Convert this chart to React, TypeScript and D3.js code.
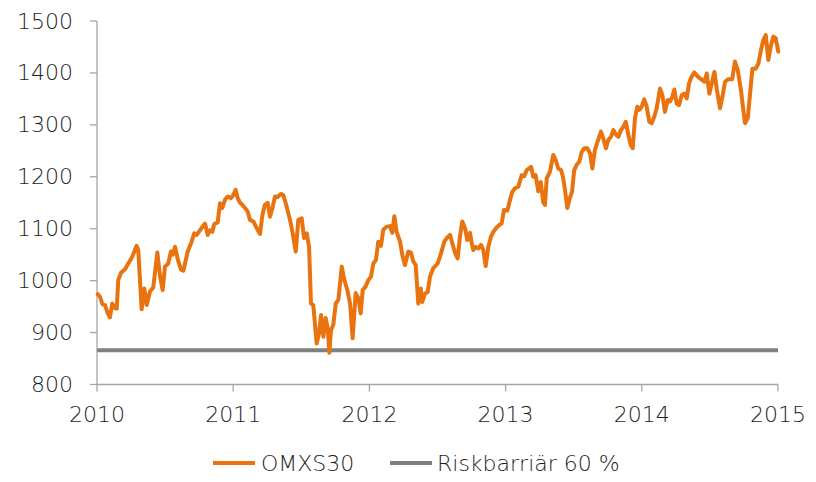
import React from "react";
import * as d3 from "d3";

// Decimal-year positions and OMXS30 index levels
const years: number[] = [
  2010.005, 2010.022, 2010.039, 2010.059, 2010.079, 2010.095, 2010.112, 2010.132, 2010.145, 2010.156,
  2010.176, 2010.206, 2010.230, 2010.259, 2010.291, 2010.303, 2010.328, 2010.347, 2010.365, 2010.389,
  2010.413, 2010.443, 2010.463, 2010.482, 2010.499, 2010.523, 2010.543, 2010.556, 2010.573, 2010.593,
  2010.617, 2010.634, 2010.666, 2010.695, 2010.714, 2010.732, 2010.756, 2010.793, 2010.813, 2010.830,
  2010.847, 2010.861, 2010.886, 2010.903, 2010.920, 2010.940, 2010.960, 2010.984, 2011.001, 2011.018,
  2011.033, 2011.050, 2011.067, 2011.087, 2011.106, 2011.123, 2011.148, 2011.173, 2011.197, 2011.214,
  2011.233, 2011.253, 2011.270, 2011.290, 2011.307, 2011.327, 2011.351, 2011.368, 2011.393, 2011.417,
  2011.437, 2011.459, 2011.478, 2011.503, 2011.520, 2011.540, 2011.557, 2011.571, 2011.588, 2011.613,
  2011.630, 2011.645, 2011.662, 2011.679, 2011.694, 2011.706, 2011.718, 2011.735, 2011.753, 2011.772,
  2011.797, 2011.816, 2011.838, 2011.858, 2011.877, 2011.899, 2011.919, 2011.936, 2011.951, 2011.973,
  2011.992, 2012.012, 2012.029, 2012.048, 2012.065, 2012.085, 2012.102, 2012.127, 2012.151, 2012.168,
  2012.183, 2012.200, 2012.225, 2012.242, 2012.261, 2012.286, 2012.305, 2012.322, 2012.340, 2012.359,
  2012.377, 2012.388, 2012.408, 2012.428, 2012.445, 2012.469, 2012.501, 2012.526, 2012.550, 2012.568,
  2012.592, 2012.609, 2012.629, 2012.648, 2012.665, 2012.682, 2012.702, 2012.719, 2012.739, 2012.751,
  2012.763, 2012.780, 2012.800, 2012.819, 2012.836, 2012.854, 2012.873, 2012.893, 2012.910, 2012.930,
  2012.952, 2012.971, 2012.988, 2013.013, 2013.032, 2013.049, 2013.069, 2013.093, 2013.118, 2013.137,
  2013.155, 2013.172, 2013.187, 2013.203, 2013.221, 2013.240, 2013.258, 2013.277, 2013.289, 2013.302,
  2013.326, 2013.350, 2013.368, 2013.387, 2013.407, 2013.421, 2013.436, 2013.453, 2013.473, 2013.488,
  2013.504, 2013.522, 2013.541, 2013.559, 2013.578, 2013.600, 2013.620, 2013.637, 2013.656, 2013.676,
  2013.700, 2013.717, 2013.737, 2013.754, 2013.774, 2013.791, 2013.811, 2013.828, 2013.847, 2013.864,
  2013.882, 2013.901, 2013.919, 2013.933, 2013.950, 2013.967, 2013.982, 2013.999, 2014.018, 2014.036,
  2014.055, 2014.073, 2014.092, 2014.109, 2014.134, 2014.151, 2014.170, 2014.190, 2014.207, 2014.224,
  2014.239, 2014.256, 2014.273, 2014.293, 2014.312, 2014.330, 2014.347, 2014.366, 2014.386, 2014.411,
  2014.435, 2014.459, 2014.477, 2014.496, 2014.514, 2014.533, 2014.550, 2014.574, 2014.594, 2014.611,
  2014.635, 2014.664, 2014.684, 2014.704, 2014.728, 2014.745, 2014.758, 2014.778, 2014.795, 2014.812,
  2014.836, 2014.856, 2014.875, 2014.892, 2014.910, 2014.929, 2014.949, 2014.966, 2014.983, 2015.002,
];

const omxs30: number[] = [
  974, 969, 955, 953, 937, 929, 956, 947, 946, 1001,
  1015, 1022, 1033, 1046, 1067, 1059, 945, 985, 953, 979,
  987, 1054, 1008, 982, 1027, 1033, 1056, 1050, 1065, 1041,
  1021, 1019, 1056, 1075, 1091, 1088, 1097, 1110, 1088, 1097,
  1094, 1109, 1112, 1149, 1140, 1156, 1162, 1159, 1165, 1175,
  1159, 1150, 1146, 1140, 1133, 1117, 1114, 1101, 1090, 1126,
  1146, 1150, 1123, 1142, 1162, 1161, 1167, 1165, 1142, 1117,
  1091, 1056, 1117, 1120, 1082, 1091, 1065, 956, 953, 879,
  898, 934, 892, 928, 908, 861, 905, 915, 956, 963,
  1027, 1001, 982, 956, 889, 976, 966, 937, 982, 989,
  1001, 1008, 1033, 1040, 1075, 1067, 1098, 1104, 1105, 1092,
  1124, 1094, 1075, 1049, 1030, 1056, 1054, 1037, 1030, 956,
  985, 959, 975, 978, 1008, 1024, 1033, 1053, 1075, 1082,
  1088, 1072, 1053, 1043, 1085, 1114, 1101, 1078, 1092, 1072,
  1059, 1065, 1062, 1069, 1059, 1028, 1065, 1085, 1094, 1101,
  1107, 1110, 1136, 1135, 1155, 1171, 1178, 1181, 1203, 1201,
  1213, 1216, 1219, 1200, 1203, 1172, 1190, 1150, 1146, 1197,
  1210, 1242, 1232, 1216, 1213, 1200, 1175, 1140, 1160, 1172,
  1213, 1223, 1229, 1248, 1255, 1255, 1245, 1216, 1252, 1268,
  1287, 1274, 1255, 1271, 1277, 1290, 1281, 1277, 1290, 1296,
  1306, 1281, 1261, 1255, 1313, 1335, 1329, 1335, 1349, 1335,
  1306, 1303, 1316, 1332, 1370, 1357, 1325, 1348, 1345, 1354,
  1368, 1341, 1338, 1357, 1360, 1351, 1380, 1393, 1401, 1393,
  1388, 1383, 1399, 1360, 1380, 1402, 1370, 1332, 1357, 1383,
  1388, 1388, 1422, 1406, 1367, 1329, 1303, 1313, 1360, 1408,
  1408, 1418, 1444, 1463, 1473, 1425, 1454, 1470, 1467, 1441,
];

const riskBarrier = 866;
const yTicks: number[] = [800, 900, 1000, 1100, 1200, 1300, 1400, 1500];
const xTicks: number[] = [2010, 2011, 2012, 2013, 2014, 2015];
const seriesNames: string[] = ["OMXS30", "Riskbarriär 60 %"];

const ORANGE = "#E8730F";
const GRAY = "#808080";
const AXIS = "#a6a6a6";
const TEXT = "#1e1e1e";
const FONT = "'DejaVu Sans', sans-serif";

export default function App() {
  const W = 816, H = 482;
  const x = d3.scaleLinear().domain([2010, 2015]).range([97, 778]);
  const y = d3.scaleLinear().domain([800, 1500]).range([384.5, 21]);

  const pts: [number, number][] = years.map((yr, i) => [yr, omxs30[i]]);
  const line = d3
    .line<[number, number]>()
    .x((d) => x(d[0]))
    .y((d) => y(d[1]))
    .curve(d3.curveLinear);

  return (
    <svg
      width={W}
      height={H}
      style={{ position: "absolute", left: 0, top: 0, background: "#fff" }}
      fontFamily={FONT}
      fontWeight={300}
    >
      {/* axes */}
      <line x1={x(2010)} x2={x(2010)} y1={y(1500)} y2={y(800)} stroke={AXIS} strokeWidth={1.3} />
      <line x1={x(2010)} x2={x(2015)} y1={y(800)} y2={y(800)} stroke={AXIS} strokeWidth={1.3} />
      {yTicks.map((t) => (
        <g key={"y" + t}>
          <line x1={x(2010) - 7} x2={x(2010)} y1={y(t)} y2={y(t)} stroke={AXIS} strokeWidth={1.3} />
          <text
            x={73}
            y={y(t)}
            textAnchor="end"
            dominantBaseline="central"
            fontSize={22}
            fill={TEXT}
          >
            {t}
          </text>
        </g>
      ))}
      {xTicks.map((t) => (
        <g key={"x" + t}>
          <line x1={x(t)} x2={x(t)} y1={y(800)} y2={y(800) + 7} stroke={AXIS} strokeWidth={1.3} />
          <text
            x={x(t)}
            y={414}
            textAnchor="middle"
            dominantBaseline="central"
            fontSize={22}
            fill={TEXT}
          >
            {t}
          </text>
        </g>
      ))}

      {/* risk barrier */}
      <line
        x1={x(2010)}
        x2={x(2015)}
        y1={y(riskBarrier)}
        y2={y(riskBarrier)}
        stroke={GRAY}
        strokeWidth={4}
      />

      {/* OMXS30 */}
      <path
        d={line(pts) || ""}
        fill="none"
        stroke={ORANGE}
        strokeWidth={4}
        strokeLinejoin="round"
        strokeLinecap="round"
      />

      {/* legend */}
      <g>
        <line x1={213} x2={255} y1={463} y2={463} stroke={ORANGE} strokeWidth={4} />
        <text x={261} y={463} dominantBaseline="central" fontSize={22} fill={TEXT}>
          {seriesNames[0]}
        </text>
        <line x1={390} x2={432} y1={463} y2={463} stroke={GRAY} strokeWidth={4} />
        <text x={437} y={463} dominantBaseline="central" fontSize={22} fill={TEXT}>
          {seriesNames[1]}
        </text>
      </g>
    </svg>
  );
}
